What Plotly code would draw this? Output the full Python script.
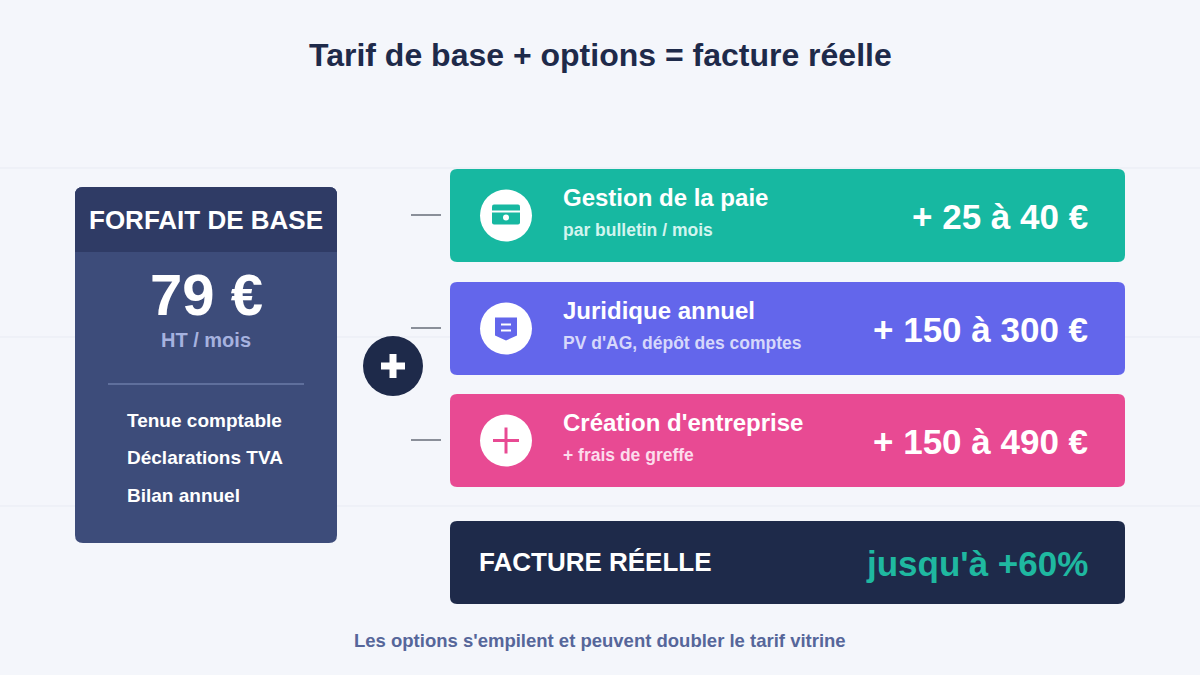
import plotly.graph_objects as go

title = "Tarif de base + options = facture réelle"
base_label = "FORFAIT DE BASE"
base_price = "79 €"
base_unit = "HT / mois"
base_items = ["Tenue comptable", "Déclarations TVA", "Bilan annuel"]
opt_names = ["Gestion de la paie", "Juridique annuel", "Création d'entreprise"]
opt_subs = ["par bulletin / mois", "PV d'AG, dépôt des comptes", "+ frais de greffe"]
opt_prices = ["+ 25 à 40 €", "+ 150 à 300 €", "+ 150 à 490 €"]
opt_colors = ["#17b8a1", "#6366eb", "#e84a93"]
opt_subcolors = ["#d2f5ef", "#d6d8fb", "#fcdcec"]
total_label = "FACTURE RÉELLE"
total_value = "jusqu'à +60%"
footer = "Les options s'empilent et peuvent doubler le tarif vitrine"

F = "Liberation Sans, Arial, sans-serif"

def rr(x0, y0, x1, y1, r, tl=True, tr=True, br=True, bl=True):
    a, b, c, d = (r if tl else 0), (r if tr else 0), (r if br else 0), (r if bl else 0)
    return (f"M{x0+a},{y0} L{x1-b},{y0} Q{x1},{y0} {x1},{y0+b} L{x1},{y1-c} Q{x1},{y1} {x1-c},{y1} "
            f"L{x0+d},{y1} Q{x0},{y1} {x0},{y1-d} L{x0},{y0+a} Q{x0},{y0} {x0+a},{y0} Z")

shapes, ann = [], []
def text(x, y, t, size, color, anchor="center", bold=True):
    if anchor == "left":
        x -= 2
    elif anchor == "right":
        x += 2
    ann.append(dict(x=x, y=y, text=f"<b>{t}</b>" if bold else t, showarrow=False, xanchor=anchor,
                    yanchor="middle", font=dict(family=F, size=size, color=color)))

for yy in [168, 337, 506]:
    shapes.append(dict(type="line", x0=0, x1=1200, y0=yy, y1=yy, line=dict(color="#e8ebf3", width=1), layer="below"))

text(600, 55, title, 32, "#1e2a4a")

# base card
shapes.append(dict(type="path", path=rr(75, 187, 337, 543, 8), fillcolor="#3d4c7a", line=dict(width=0)))
shapes.append(dict(type="path", path=rr(75, 187, 337, 252, 8, br=False, bl=False), fillcolor="#2f3b65", line=dict(width=0)))
text(206, 220, base_label, 26, "white")
text(206, 294, base_price, 58, "white")
text(206, 340, base_unit, 20, "#a6b2df")
shapes.append(dict(type="line", x0=108, x1=304, y0=384, y1=384, line=dict(color="#6b7ba9", width=1.5)))
for i, it in enumerate(base_items):
    text(127, 420 + i * 37.5, it, 19, "white", anchor="left")

# plus circle
shapes.append(dict(type="circle", x0=363, x1=423, y0=336, y1=396, fillcolor="#1e2a4a", line=dict(width=0)))
shapes.append(dict(type="rect", x0=381, x1=405, y0=362.5, y1=369.5, fillcolor="white", line=dict(width=0)))
shapes.append(dict(type="rect", x0=389.5, x1=396.5, y0=354, y1=378, fillcolor="white", line=dict(width=0)))

tops = [169, 282, 394]
for i, n in enumerate(opt_names):
    y0 = tops[i]; y1 = y0 + 93; cy = (y0 + y1) / 2
    shapes.append(dict(type="line", x0=411, x1=441, y0=cy - 0.5, y1=cy - 0.5, line=dict(color="#8a8f99", width=2)))
    shapes.append(dict(type="path", path=rr(450, y0, 1125, y1, 7), fillcolor=opt_colors[i], line=dict(width=0)))
    shapes.append(dict(type="circle", x0=480, x1=532, y0=cy - 26, y1=cy + 26, fillcolor="white", line=dict(width=0)))
    c = opt_colors[i]
    if i == 0:
        shapes.append(dict(type="path", path=rr(492, cy - 11, 520, cy + 9, 2), fillcolor=c, line=dict(width=0)))
        shapes.append(dict(type="rect", x0=492, x1=520, y0=cy - 5, y1=cy - 3, fillcolor="white", line=dict(width=0)))
        shapes.append(dict(type="circle", x0=503, x1=509, y0=cy - 1, y1=cy + 5, fillcolor="white", line=dict(width=0)))
    elif i == 1:
        shapes.append(dict(type="path", path=f"M495,{cy-11} L517,{cy-11} L517,{cy+7} L506,{cy+12} L495,{cy+7} Z", fillcolor=c, line=dict(width=0)))
        for dy in (-4, 2):
            shapes.append(dict(type="line", x0=501, x1=511, y0=cy + dy, y1=cy + dy, line=dict(color="white", width=2)))
    else:
        shapes.append(dict(type="line", x0=493, x1=519, y0=cy, y1=cy, line=dict(color=c, width=3)))
        shapes.append(dict(type="line", x0=506, x1=506, y0=cy - 13, y1=cy + 13, line=dict(color=c, width=3)))
    text(563, cy - 18, n, 24, "white", anchor="left")
    text(563, cy + 14, opt_subs[i], 17.5, opt_subcolors[i], anchor="left")
    text(1088, cy + 1, opt_prices[i], 35, "white", anchor="right")

shapes.append(dict(type="path", path=rr(450, 521, 1125, 604, 7), fillcolor="#1e2a4a", line=dict(width=0)))
text(479, 562, total_label, 26, "white", anchor="left")
text(1088, 563, total_value, 35, "#1fb8a0", anchor="right")

text(600, 640, footer, 18.5, "#56669a")

fig = go.Figure()
fig.update_layout(width=1200, height=675, margin=dict(l=0, r=0, t=0, b=0),
                  paper_bgcolor="#f4f6fb", plot_bgcolor="#f4f6fb",
                  xaxis=dict(range=[0, 1200], visible=False, fixedrange=True),
                  yaxis=dict(range=[675, 0], visible=False, fixedrange=True),
                  shapes=shapes, annotations=ann, showlegend=False)
fig.write_html("out.html", config={"displayModeBar": False})
with open("out.html", encoding="utf-8") as f:
    html = f.read()
html = html.replace("<head>", "<head><style>html,body{margin:0;padding:0;background:#f4f6fb;overflow:hidden}</style>", 1)
with open("out.html", "w", encoding="utf-8") as f:
    f.write(html)
